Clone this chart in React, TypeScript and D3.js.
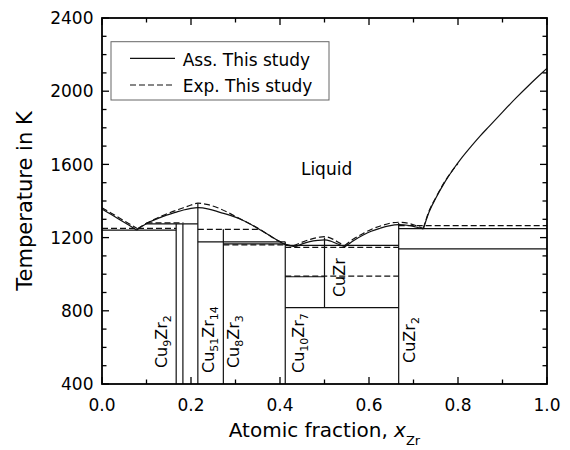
import React from 'react';
import * as d3 from 'd3';

// liquidus, assessed (solid) - one array per branch between eutectics
const assCu: [number, number][] = [[0, 1356], [0.02, 1327], [0.04, 1298], [0.06, 1269], [0.078, 1241]];
const assCu51Zr14: [number, number][] = [
  [0.078, 1241], [0.09, 1262], [0.108, 1287], [0.127, 1306], [0.145, 1323], [0.165, 1338], [0.183, 1351],
  [0.2, 1360], [0.2154, 1364], [0.24, 1356], [0.265, 1338], [0.29, 1320], [0.31, 1302], [0.335, 1272],
  [0.355, 1243], [0.375, 1214], [0.393, 1187], [0.411, 1163], [0.434, 1150],
];
const assCuZr: [number, number][] = [[0.434, 1150], [0.45, 1166], [0.467, 1178], [0.485, 1185], [0.5, 1188], [0.515, 1180], [0.53, 1165], [0.546, 1150]];
const assCuZr2: [number, number][] = [
  [0.546, 1150], [0.565, 1183], [0.587, 1214], [0.605, 1235], [0.625, 1251], [0.645, 1264], [0.667, 1271],
  [0.69, 1266], [0.705, 1258], [0.722, 1247],
];
const assZr: [number, number][] = [
  [0.722, 1247], [0.735, 1340], [0.75, 1415], [0.77, 1502], [0.789, 1572], [0.81, 1641], [0.83, 1700],
  [0.85, 1756], [0.87, 1808], [0.9, 1886], [0.93, 1962], [0.96, 2034], [0.98, 2080], [1.0, 2125],
];

// liquidus, experimental (dashed)
const expCu: [number, number][] = [[0, 1363], [0.02, 1335], [0.04, 1306], [0.06, 1277], [0.08, 1248]];
const expCu51Zr14: [number, number][] = [
  [0.08, 1248], [0.1, 1278], [0.125, 1308], [0.15, 1334], [0.183, 1363], [0.2, 1378], [0.2154, 1388],
  [0.235, 1382], [0.26, 1363], [0.285, 1335], [0.31, 1303], [0.335, 1272], [0.355, 1245], [0.38, 1205],
  [0.4, 1178], [0.415, 1162], [0.43, 1155],
];
const expCuZr: [number, number][] = [[0.43, 1155], [0.45, 1175], [0.47, 1192], [0.49, 1203], [0.5, 1205], [0.515, 1196], [0.53, 1176], [0.545, 1155]];
const expCuZr2: [number, number][] = [
  [0.545, 1155], [0.565, 1192], [0.587, 1223], [0.61, 1250], [0.63, 1267], [0.65, 1280], [0.667, 1284],
  [0.69, 1277], [0.705, 1266], [0.722, 1250],
];
const expZr: [number, number][] = [[0.722, 1250], [0.735, 1345], [0.75, 1418], [0.77, 1505], [0.8, 1605]];

// invariant reactions: [x from, x to, T]
const assHorizontals: [number, number, number][] = [
  [0, 0.1667, 1241], [0.097, 0.2154, 1275], [0.2154, 0.4118, 1177], [0.2727, 0.4118, 1166],
  [0.4118, 0.6667, 1158], [0.4118, 0.5, 986], [0.4118, 0.6667, 817], [0.6667, 1, 1249], [0.6667, 1, 1138],
];
const expHorizontals: [number, number, number][] = [
  [0, 0.1667, 1250], [0.1, 0.183, 1281], [0.2154, 0.355, 1245], [0.2727, 0.4118, 1160],
  [0.4118, 0.6667, 1147], [0.4118, 0.6667, 989], [0.6667, 1, 1265],
];
// compounds: [x, T bottom, T top]
const compoundLines: [number, number, number][] = [
  [0.1667, 400, 1275], [0.1818, 400, 1275], [0.2154, 400, 1388], [0.2727, 400, 1245],
  [0.4118, 400, 1177], [0.5, 817, 1200], [0.6667, 400, 1280],
];
// labels: [main parts with subscripts], x, T
const compoundNames: [string, string, string, string][] = [
  ['Cu', '9', 'Zr', '2'], ['Cu', '51', 'Zr', '14'], ['Cu', '8', 'Zr', '3'],
  ['Cu', '10', 'Zr', '7'], ['Cu', '', 'Zr', ''], ['Cu', '', 'Zr', '2'],
];
const compoundLabelX = [0.146, 0.252, 0.308, 0.454, 0.546, 0.703];
const compoundLabelT = [487, 460, 487, 460, 875, 515];

const xMajor = [0, 0.2, 0.4, 0.6, 0.8, 1.0];
const xMinor = [0.1, 0.3, 0.5, 0.7, 0.9];
const yMajor = [400, 800, 1200, 1600, 2000, 2400];

const FONT = '"DejaVu Sans", Arial, sans-serif';

export default function App() {
  const x = d3.scaleLinear().domain([0, 1]).range([102, 547]);
  const y = d3.scaleLinear().domain([400, 2400]).range([384, 18]);
  const line = d3.line<[number, number]>().x(d => x(d[0])).y(d => y(d[1])).curve(d3.curveMonotoneX);

  const yMinor = d3.range(500, 2400, 100).filter(v => v % 400 !== 0);
  const [x0, x1] = x.range();
  const [y0, y1] = y.range();
  const stroke = '#111';

  return (
    <svg width={570} height={450} style={{ position: 'absolute', left: 0, top: 0, background: '#fff' }} fontFamily={FONT}>
      <rect width={570} height={450} fill="#fff" />

      {/* phase boundaries */}
      <g stroke={stroke} strokeWidth={1.2} fill="none">
        {assHorizontals.map((h, i) => (
          <line key={'ah' + i} x1={x(h[0])} x2={x(h[1])} y1={y(h[2])} y2={y(h[2])} />
        ))}
        {compoundLines.map((c, i) => (
          <line key={'cv' + i} x1={x(c[0])} x2={x(c[0])} y1={y(c[1])} y2={y(c[2])} />
        ))}
        {[assCu, assCu51Zr14, assCuZr, assCuZr2, assZr].map((s, i) => (
          <path key={'as' + i} d={line(s) || ''} />
        ))}
      </g>
      <g stroke={stroke} strokeWidth={1.2} fill="none" strokeDasharray="6,3">
        {expHorizontals.map((h, i) => (
          <line key={'eh' + i} x1={x(h[0])} x2={x(h[1])} y1={y(h[2])} y2={y(h[2])} />
        ))}
        {[expCu, expCu51Zr14, expCuZr, expCuZr2, expZr].map((s, i) => (
          <path key={'es' + i} d={line(s) || ''} />
        ))}
      </g>

      {/* compound labels */}
      {compoundNames.map((n, i) => (
        <text key={'cl' + i} transform={`translate(${x(compoundLabelX[i])},${y(compoundLabelT[i])}) rotate(-90)`}
          fontSize={16} fill="#000">
          {n[0]}
          {n[1] && <tspan fontSize={11} dy={4}>{n[1]}</tspan>}
          <tspan dy={n[1] ? -4 : 0}>{n[2]}</tspan>
          {n[3] && <tspan fontSize={11} dy={4}>{n[3]}</tspan>}
        </text>
      ))}

      <text x={x(0.447)} y={y(1542)} fontSize={17}>Liquid</text>

      {/* frame and ticks */}
      <rect x={x0} y={y1} width={x1 - x0} height={y0 - y1} fill="none" stroke="#000" strokeWidth={1.8} />
      <g stroke="#000" strokeWidth={1.3}>
        {xMajor.map(v => (
          <g key={'xM' + v}>
            <line x1={x(v)} x2={x(v)} y1={y0} y2={y0 - 7} />
            <line x1={x(v)} x2={x(v)} y1={y1} y2={y1 + 7} />
          </g>
        ))}
        {xMinor.map(v => (
          <g key={'xm' + v}>
            <line x1={x(v)} x2={x(v)} y1={y0} y2={y0 - 4.5} />
            <line x1={x(v)} x2={x(v)} y1={y1} y2={y1 + 4.5} />
          </g>
        ))}
        {yMajor.map(v => (
          <g key={'yM' + v}>
            <line x1={x0} x2={x0 + 7} y1={y(v)} y2={y(v)} />
            <line x1={x1} x2={x1 - 7} y1={y(v)} y2={y(v)} />
          </g>
        ))}
        {yMinor.map(v => (
          <g key={'ym' + v}>
            <line x1={x0} x2={x0 + 4.5} y1={y(v)} y2={y(v)} />
            <line x1={x1} x2={x1 - 4.5} y1={y(v)} y2={y(v)} />
          </g>
        ))}
      </g>
      {xMajor.map(v => (
        <text key={'xt' + v} x={x(v)} y={y0 + 26.5} textAnchor="middle" fontSize={17}>{v.toFixed(1)}</text>
      ))}
      {yMajor.map(v => (
        <text key={'yt' + v} x={x0 - 8.5} y={y(v)} dy="0.36em" textAnchor="end" fontSize={17}>{v}</text>
      ))}

      <text x={(x0 + x1) / 2} y={437} textAnchor="middle" fontSize={20}>
        Atomic fraction, <tspan fontStyle="italic">x</tspan><tspan fontSize={13} dy={8}>Zr</tspan>
      </text>
      <text transform={`translate(32,${(y0 + y1) / 2}) rotate(-90)`} textAnchor="middle" fontSize={21}>Temperature in K</text>

      {/* legend */}
      <rect x={111} y={41.7} width={218} height={58.3} fill="#fff" stroke="#666" strokeWidth={1} />
      <line x1={130} x2={175} y1={58.3} y2={58.3} stroke={stroke} strokeWidth={1.2} />
      <line x1={130} x2={175} y1={85} y2={85} stroke={stroke} strokeWidth={1.2} strokeDasharray="6,3" />
      <text x={182.7} y={66} fontSize={17}>Ass. This study</text>
      <text x={182.7} y={92} fontSize={17}>Exp. This study</text>
    </svg>
  );
}
